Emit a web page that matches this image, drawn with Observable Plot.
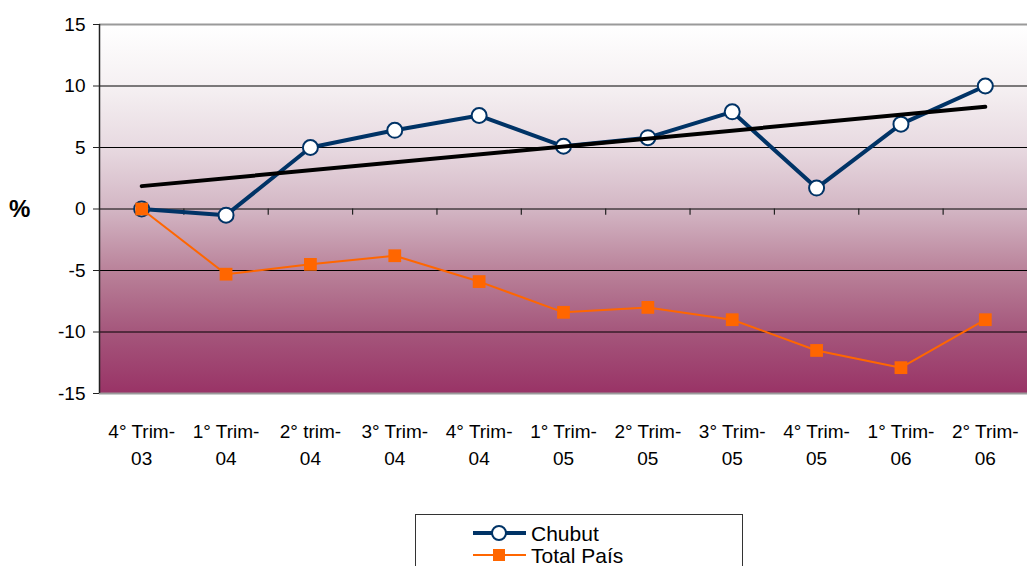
<!DOCTYPE html>
<html>
<head>
<meta charset="utf-8">
<script src="https://cdn.jsdelivr.net/npm/d3@7"></script>
<script src="https://cdn.jsdelivr.net/npm/@observablehq/plot@0.6"></script>
<style>
  html, body { margin: 0; padding: 0; background: #fff; }
  #wrap { position: relative; width: 1027px; height: 566px; overflow: hidden; font-family: "Liberation Sans", Arial, sans-serif; }
  #pct { position: absolute; left: 9px; top: 195px; font-size: 24px; font-weight: bold; }
  #legend { position: absolute; left: 0; top: 0; }
</style>
</head>
<body>
<div id="wrap">
  <div id="chart"></div>
  <div id="pct">%</div>
  <div id="legend"></div>
</div>
<script>
const quarters = ["4° Trim-03","1° Trim-04","2° trim-04","3° Trim-04","4° Trim-04","1° Trim-05","2° Trim-05","3° Trim-05","4° Trim-05","1° Trim-06","2° Trim-06"];
const chubut = [0, -0.5, 5.0, 6.4, 7.6, 5.1, 5.8, 7.9, 1.7, 6.9, 10.0];
const totalPais = [0, -5.3, -4.5, -3.8, -5.9, -8.4, -8.0, -9.0, -11.5, -12.9, -9.0];
const yTicks = [-15, -10, -5, 0, 5, 10, 15];
const seriesNames = ["Chubut", "Total País"];

const navy = "#003366";
const orange = "#FF6600";

const idx = quarters.map((q, i) => i);
const data = idx.map(i => ({i, q: quarters[i], chubut: chubut[i], total: totalPais[i]}));
const bounds = idx.slice(0, -1).map(i => i + 0.5);

const gradient = () => {
  const defs = d3.create("svg:defs");
  const g = defs.append("linearGradient").attr("id", "bg").attr("x1", 0).attr("y1", 0).attr("x2", 0).attr("y2", 1);
  [[0, "#ffffff"], [0.17, "#f5f0f2"], [0.33, "#e8dae1"], [0.5, "#d3b6c4"], [0.67, "#b98199"], [0.83, "#a5577c"], [1, "#993366"]]
    .forEach(([o, c]) => g.append("stop").attr("offset", o).attr("stop-color", c));
  return defs.node();
};

const chart = Plot.plot({
  width: 1027,
  height: 490,
  marginLeft: 99,
  marginRight: 0,
  marginTop: 24,
  marginBottom: 97,
  style: {fontFamily: "'Liberation Sans', Arial, sans-serif", color: "black", background: "transparent", overflow: "visible"},
  x: {domain: [-0.5, quarters.length - 0.5]},
  y: {domain: [-15, 15]},
  marks: [
    gradient,
    Plot.frame({fill: "url(#bg)", stroke: null}),
    Plot.ruleY([-10, -5, 0, 5, 10], {stroke: "black", strokeWidth: 1}),
    Plot.ruleY([15, -15], {stroke: "#9a9a9a", strokeWidth: 2}),
    Plot.ruleX([-0.5], {stroke: "#222", strokeWidth: 1.5}),
    Plot.ruleX(bounds, {x: d => d, y1: 0, y2: -0.5, stroke: "#222", strokeWidth: 1.2}),
    Plot.axisY(yTicks, {tickSize: 6, tickPadding: 8, fontSize: 19, label: null, stroke: "#222", tickFormat: d => String(d)}),
    Plot.axisX(idx, {tickFormat: i => quarters[i].replace("-", "-\n"), tickSize: 0, tickPadding: 25, fontSize: 19, lineHeight: 1.42, label: null}),
    Plot.line(data, {x: "i", y: "chubut", stroke: navy, strokeWidth: 4}),
    Plot.dot(data, {x: "i", y: "chubut", r: 7.5, fill: "white", stroke: navy, strokeWidth: 2}),
    Plot.line(data, {x: "i", y: "total", stroke: orange, strokeWidth: 2}),
    Plot.dot(data, {x: "i", y: "total", symbol: "square", r: 7.2, fill: orange, stroke: null}),
    Plot.linearRegressionY(data, {x: "i", y: "chubut", stroke: "black", strokeWidth: 4, ci: 0})
  ]
});
document.getElementById("chart").appendChild(chart);

// Legend
const lg = d3.select("#legend").append("svg").attr("width", 1027).attr("height", 566);
lg.append("rect").attr("x", 415.5).attr("y", 514.5).attr("width", 327).attr("height", 80)
  .attr("fill", "white").attr("stroke", "#333").attr("stroke-width", 1);
const items = [
  {name: seriesNames[0], y: 533, color: navy, type: "circle"},
  {name: seriesNames[1], y: 555, color: orange, type: "square"}
];
items.forEach(it => {
  lg.append("line").attr("x1", 473).attr("x2", 526).attr("y1", it.y).attr("y2", it.y)
    .attr("stroke", it.color).attr("stroke-width", it.type === "circle" ? 4 : 2);
  if (it.type === "circle") {
    lg.append("circle").attr("cx", 499).attr("cy", it.y).attr("r", 7).attr("fill", "white").attr("stroke", it.color).attr("stroke-width", 2);
  } else {
    lg.append("rect").attr("x", 493).attr("y", it.y - 6).attr("width", 12).attr("height", 12).attr("fill", it.color);
  }
  lg.append("text").attr("x", 531).attr("y", it.y).attr("dy", "0.36em")
    .attr("font-family", "'Liberation Sans', Arial, sans-serif").attr("font-size", 21).attr("fill", "black").text(it.name);
});
</script>
</body>
</html>
